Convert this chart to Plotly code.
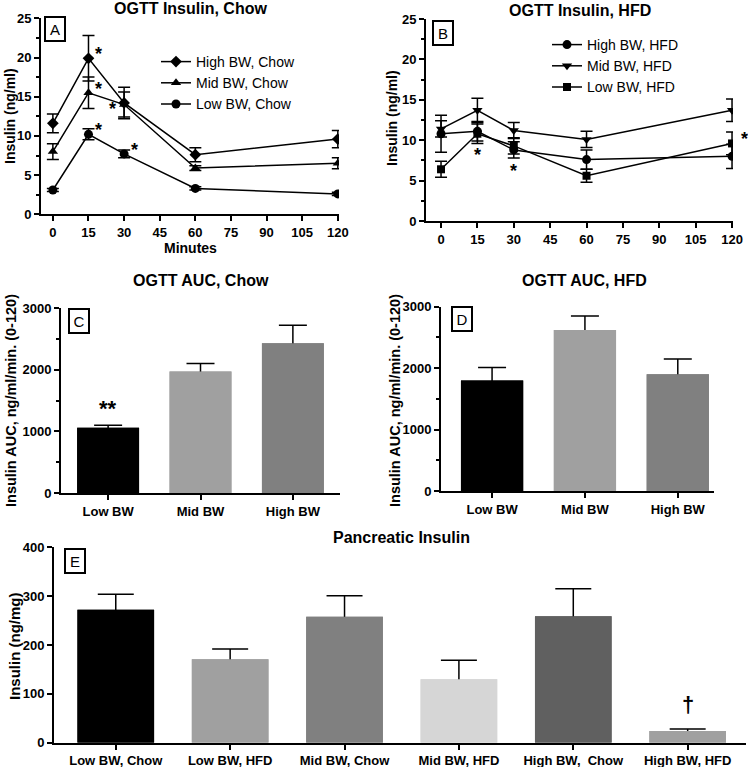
import plotly.graph_objects as go

W, H = 748, 767
def px(x): return x / W
def py(y): return 1 - y / H

# ---------------- data ----------------
minutes = [0, 15, 30, 60, 120]
time_ticks = [0, 15, 30, 45, 60, 75, 90, 105, 120]

chow_high = [11.6, 19.9, 14.2, 7.6, 9.6]
chow_high_err = [1.2, 2.9, 2.0, 0.9, 1.1]
chow_mid = [8.0, 15.5, 14.0, 5.9, 6.5]
chow_mid_err = [1.0, 2.0, 1.6, 0.3, 0.7]
chow_low = [3.1, 10.2, 7.7, 3.3, 2.6]
chow_low_err = [0.2, 0.7, 0.5, 0.2, 0.2]

hfd_high = [10.8, 11.1, 8.8, 7.6, 8.0]
hfd_high_err = [2.3, 1.2, 1.0, 1.2, 1.5]
hfd_mid = [11.4, 13.7, 11.2, 10.1, 13.7]
hfd_mid_err = [1.0, 1.5, 1.0, 1.0, 1.4]
hfd_low = [6.4, 10.8, 9.3, 5.6, 9.6]
hfd_low_err = [1.0, 1.2, 1.0, 0.8, 1.4]

auc_groups = ["Low BW", "Mid BW", "High BW"]
auc_chow = [1060, 1970, 2430]
auc_chow_err = [40, 130, 290]
auc_hfd = [1800, 2620, 1900]
auc_hfd_err = [210, 230, 250]

panc_groups = ["Low BW, Chow", "Low BW, HFD", "Mid BW, Chow", "Mid BW, HFD", "High BW,  Chow", "High BW, HFD"]
panc_insulin = [272, 171, 258, 130, 259, 24]
panc_err = [32, 21, 43, 39, 56, 4]

auc_colors = ["#000000", "#a0a0a0", "#808080"]
panc_colors = ["#000000", "#a0a0a0", "#808080", "#d6d6d6", "#606060", "#a0a0a0"]

FONT = "Liberation Sans, Arial, sans-serif"
fig = go.Figure()

def line_trace(x, y, err, name, symbol, xa, ya, legend, size=8):
    return go.Scatter(
        x=x, y=y, name=name, mode="lines+markers",
        line=dict(color="black", width=1.5),
        marker=dict(symbol=symbol, size=size, color="black"),
        error_y=dict(type="data", array=err, color="black", thickness=1.5, width=6),
        xaxis=xa, yaxis=ya, legend=legend,
    )

fig.add_trace(line_trace(minutes, chow_high, chow_high_err, "High BW, Chow", "diamond", "x", "y", "legend", 9))
fig.add_trace(line_trace(minutes, chow_mid, chow_mid_err, "Mid BW, Chow", "triangle-up", "x", "y", "legend", 9))
fig.add_trace(line_trace(minutes, chow_low, chow_low_err, "Low BW, Chow", "circle", "x", "y", "legend", 9))

fig.add_trace(line_trace(minutes, hfd_high, hfd_high_err, "High BW, HFD", "circle", "x2", "y2", "legend2", 9))
fig.add_trace(line_trace(minutes, hfd_mid, hfd_mid_err, "Mid BW, HFD", "triangle-down", "x2", "y2", "legend2", 9))
fig.add_trace(line_trace(minutes, hfd_low, hfd_low_err, "Low BW, HFD", "square", "x2", "y2", "legend2", 8))

def bar_pair(cats, vals, errs, colors, xa, ya, capw, width):
    xs = list(range(len(cats)))
    fig.add_trace(go.Bar(x=xs, y=vals, width=width, marker=dict(color=colors, line=dict(width=0)),
                         error_y=dict(type="data", array=errs, color="black", thickness=1.5, width=capw),
                         xaxis=xa, yaxis=ya, showlegend=False))
    fig.add_trace(go.Bar(x=xs, y=vals, width=width, marker=dict(color=colors, line=dict(width=0)),
                         xaxis=xa, yaxis=ya, showlegend=False))

bar_pair(auc_groups, auc_chow, auc_chow_err, auc_colors, "x3", "y3", 14, 0.67)
bar_pair(auc_groups, auc_hfd, auc_hfd_err, auc_colors, "x4", "y4", 14, 0.67)
bar_pair(panc_groups, panc_insulin, panc_err, panc_colors, "x5", "y5", 18, 0.67)

tickfont = dict(family=FONT, size=13, color="black", weight="bold")
axis_common = dict(showline=True, linewidth=2, linecolor="black", showgrid=False, zeroline=False,
                   automargin=False,
                   ticks="outside", ticklen=5, tickwidth=1.5, tickcolor="black", tickfont=tickfont)

layout = dict(
    template="none",
    width=W, height=H, margin=dict(l=0, r=0, t=0, b=0, autoexpand=False),
    paper_bgcolor="white", plot_bgcolor="white", barmode="overlay",
    font=dict(family=FONT, color="black"),
    xaxis=dict(domain=[px(41), px(339)], range=[-5, 120.5], tickvals=time_ticks, anchor="y", **axis_common),
    yaxis=dict(domain=[py(214.3), py(18.3)], range=[0, 25], dtick=5, anchor="x",
               minor=dict(ticks="outside", ticklen=3, dtick=2.5, tickcolor="black"), **axis_common),
    xaxis2=dict(domain=[px(426), px(733)], range=[-6.2, 120.4], tickvals=time_ticks, anchor="y2", **axis_common),
    yaxis2=dict(domain=[py(221), py(19)], range=[0, 25], dtick=5, anchor="x2",
                minor=dict(ticks="outside", ticklen=3, dtick=2.5, tickcolor="black"), **axis_common),
    xaxis3=dict(domain=[px(61), px(340)], range=[-0.51, 2.51], tickvals=[0, 1, 2], ticktext=auc_groups, anchor="y3", **axis_common),
    yaxis3=dict(domain=[py(493), py(308)], range=[0, 3000], dtick=1000, anchor="x3",
                minor=dict(ticks="outside", ticklen=3, dtick=500, tickcolor="black"), **axis_common),
    xaxis4=dict(domain=[px(441), px(714)], range=[-0.55, 2.39], tickvals=[0, 1, 2], ticktext=auc_groups, anchor="y4", **axis_common),
    yaxis4=dict(domain=[py(491), py(306.7)], range=[0, 3000], dtick=1000, anchor="x4",
                minor=dict(ticks="outside", ticklen=3, dtick=500, tickcolor="black"), **axis_common),
    xaxis5=dict(domain=[px(54), px(746)], range=[-0.54, 5.51], tickvals=list(range(6)), ticktext=panc_groups, anchor="y5", **axis_common),
    yaxis5=dict(domain=[py(742.7), py(547.3)], range=[0, 400], dtick=100, anchor="x5", **axis_common),
    legend=dict(x=px(156), y=py(46), xanchor="left", yanchor="top", font=dict(family=FONT, size=14, color="black"),
                bgcolor="rgba(0,0,0,0)", itemclick=False),
    legend2=dict(x=px(547), y=py(29), xanchor="left", yanchor="top", font=dict(family=FONT, size=14, color="black"),
                 bgcolor="rgba(0,0,0,0)", itemclick=False),
)
fig.update_layout(**layout)

ann = []
def txt(x, y, text, size, bold=True, angle=0, xanchor="center", yanchor="middle"):
    ann.append(dict(x=px(x), y=py(y), xref="paper", yref="paper", text=text, showarrow=False,
                    textangle=angle, xanchor=xanchor, yanchor=yanchor,
                    font=dict(family=FONT, size=size, color="black", weight="bold" if bold else "normal")))

# titles
txt(190, 9, "OGTT Insulin, Chow", 16)
txt(580, 10, "OGTT Insulin, HFD", 16)
txt(201, 281, "OGTT AUC, Chow", 16)
txt(584, 280, "OGTT AUC, HFD", 16)
txt(401, 537, "Pancreatic Insulin", 16)
# axis titles
txt(190, 248, "Minutes", 14)
txt(10, 116, "Insulin (ng/ml)", 14, angle=-90)
txt(392, 118, "Insulin (ng/ml)", 14, angle=-90)
txt(11, 401, "Insulin AUC, ng/ml/min. (0-120)", 14.5, angle=-90)
txt(395, 401, "Insulin AUC, ng/ml/min. (0-120)", 14.5, angle=-90)
txt(14, 647, "Insulin (ng/mg)", 15, angle=-90)

# panel letters
for (cx, cy, letter) in [(55, 28.5, "A"), (442.5, 32.5, "B"), (79, 321, "C"), (462, 319, "D"), (75, 560.5, "E")]:
    ann.append(dict(x=px(cx), y=py(cy), xref="paper", yref="paper", text=letter, showarrow=False,
                    xanchor="center", yanchor="middle", bordercolor="black", borderwidth=2, borderpad=2,
                    width=14, height=18,
                    font=dict(family=FONT, size=15, color="black")))

# significance marks (data coordinates)
sig_A = [(15, 19.9, 10, 4), (15, 15.5, 10, 4), (15, 10.2, 10, 4), (30, 14.2, -12, -6), (30, 7.7, 10, 4)]
for (x, y, xs, ys) in sig_A:
    ann.append(dict(x=x, y=y, xref="x", yref="y", text="*", showarrow=False, xshift=xs, yshift=ys,
                    font=dict(family=FONT, size=18, color="black", weight="bold")))
sig_B = [(15, 8.2, 0, 0), (30, 6.2, 0, 0), (120, 9.6, 12, 4)]
for (x, y, xs, ys) in sig_B:
    ann.append(dict(x=x, y=y, xref="x2", yref="y2", text="*", showarrow=False, xshift=xs, yshift=ys,
                    font=dict(family=FONT, size=18, color="black", weight="bold")))
ann.append(dict(x=0, y=auc_chow[0] + auc_chow_err[0], xref="x3", yref="y3", text="**", showarrow=False,
                yanchor="bottom", yshift=2, font=dict(family=FONT, size=22, color="black", weight="bold")))
ann.append(dict(x=5, y=panc_insulin[5] + panc_err[5], xref="x5", yref="y5", text="†", showarrow=False,
                yanchor="bottom", yshift=10, font=dict(family=FONT, size=22, color="black", weight="bold")))

fig.update_layout(annotations=ann)
fig.write_html("out.html", config={"displayModeBar": False},
               post_script="document.body.style.margin='0px';document.body.style.overflow='hidden';")
